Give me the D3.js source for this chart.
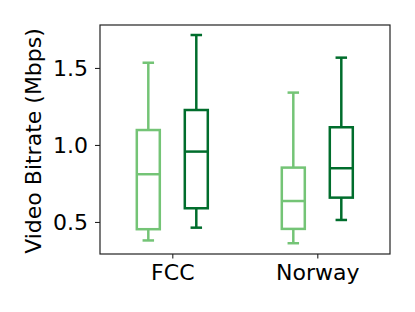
<!DOCTYPE html>
<html>
<head>
<meta charset="utf-8">
<script src="https://cdn.jsdelivr.net/npm/d3@7"></script>
<style>
  body { margin: 0; background: #fff; }
  svg text { font-family: "DejaVu Sans", sans-serif; }
</style>
</head>
<body>
<div id="chart"></div>
<script>
// data
const groups = ['FCC', 'Norway'];
const series = ['light', 'dark'];
const seriesColors = ['#74c476', '#006d2c'];
// [whiskerLow, q1, median, q3, whiskerHigh]
const fccLight = [0.38, 0.453, 0.81, 1.097, 1.534];
const fccDark = [0.463, 0.589, 0.957, 1.227, 1.714];
const norwayLight = [0.362, 0.455, 0.636, 0.853, 1.34];
const norwayDark = [0.513, 0.658, 0.849, 1.115, 1.567];
const yTicks = [0.5, 1.0, 1.5];

const boxes = [
  { group: 'FCC', s: 0, v: fccLight },
  { group: 'FCC', s: 1, v: fccDark },
  { group: 'Norway', s: 0, v: norwayLight },
  { group: 'Norway', s: 1, v: norwayDark }
];

const width = 415, height = 312;
const margin = { top: 25, right: 25, bottom: 58, left: 100 };
const innerW = width - margin.left - margin.right;
const innerH = height - margin.top - margin.bottom;

const svg = d3.select('#chart')
  .append('svg')
  .attr('width', width)
  .attr('height', height);

const g = svg.append('g')
  .attr('transform', `translate(${margin.left}, ${margin.top})`);

// group centres sit at the measured tick spots
const xCenter = d3.scaleLinear()
  .domain([0, 1])
  .range([72.3, 217.3]);

const xOff = d3.scaleLinear().domain([0, 1]).range([-24, 24]);
const boxW = 23;

const y = d3.scaleLinear()
  .domain([0.292, 1.779])
  .range([innerH, 0]);

// axes
g.append('g')
  .attr('transform', `translate(0, ${innerH})`)
  .call(d3.axisBottom(xCenter).tickValues([0, 1]).tickFormat((d, i) => groups[i]).tickSize(4.5).tickPadding(6))
  .call(a => a.select('.domain').remove())
  .call(a => a.selectAll('text').attr('font-size', 22).attr('fill', '#000').attr('dy', '0.71em'))
  .call(a => a.selectAll('line').attr('stroke', '#222').attr('stroke-width', 1.1));

g.append('g')
  .call(d3.axisLeft(y).tickValues(yTicks).tickFormat(d3.format('.1f')).tickSize(5).tickPadding(7))
  .call(a => a.select('.domain').remove())
  .call(a => a.selectAll('text').attr('font-size', 22).attr('fill', '#000'))
  .call(a => a.selectAll('line').attr('stroke', '#222').attr('stroke-width', 1.1));

// frame
g.append('rect')
  .attr('x', 0)
  .attr('y', 0)
  .attr('width', innerW)
  .attr('height', innerH)
  .attr('fill', 'none')
  .attr('stroke', '#222')
  .attr('stroke-width', 1.2);

// boxes
const bx = g.selectAll('.box')
  .data(boxes)
  .enter()
  .append('g')
  .attr('class', 'box')
  .attr('transform', d => `translate(${xCenter(groups.indexOf(d.group)) + xOff(d.s)}, 0)`)
  .attr('stroke', d => seriesColors[d.s])
  .attr('stroke-width', 2.5)
  .attr('fill', 'none');

bx.append('line')
  .attr('x1', 0).attr('x2', 0)
  .attr('y1', d => y(d.v[0])).attr('y2', d => y(d.v[1]));
bx.append('line')
  .attr('x1', 0).attr('x2', 0)
  .attr('y1', d => y(d.v[3])).attr('y2', d => y(d.v[4]));
bx.append('line')
  .attr('x1', -boxW / 4).attr('x2', boxW / 4)
  .attr('y1', d => y(d.v[0])).attr('y2', d => y(d.v[0]));
bx.append('line')
  .attr('x1', -boxW / 4).attr('x2', boxW / 4)
  .attr('y1', d => y(d.v[4])).attr('y2', d => y(d.v[4]));
bx.append('rect')
  .attr('x', -boxW / 2)
  .attr('width', boxW)
  .attr('y', d => y(d.v[3]))
  .attr('height', d => y(d.v[1]) - y(d.v[3]));
bx.append('line')
  .attr('x1', -boxW / 2).attr('x2', boxW / 2)
  .attr('y1', d => y(d.v[2])).attr('y2', d => y(d.v[2]));

// y label
svg.append('text')
  .attr('transform', `translate(41, 141) rotate(-90)`)
  .attr('text-anchor', 'middle')
  .attr('font-size', 22)
  .text('Video Bitrate (Mbps)');
</script>
</body>
</html>
